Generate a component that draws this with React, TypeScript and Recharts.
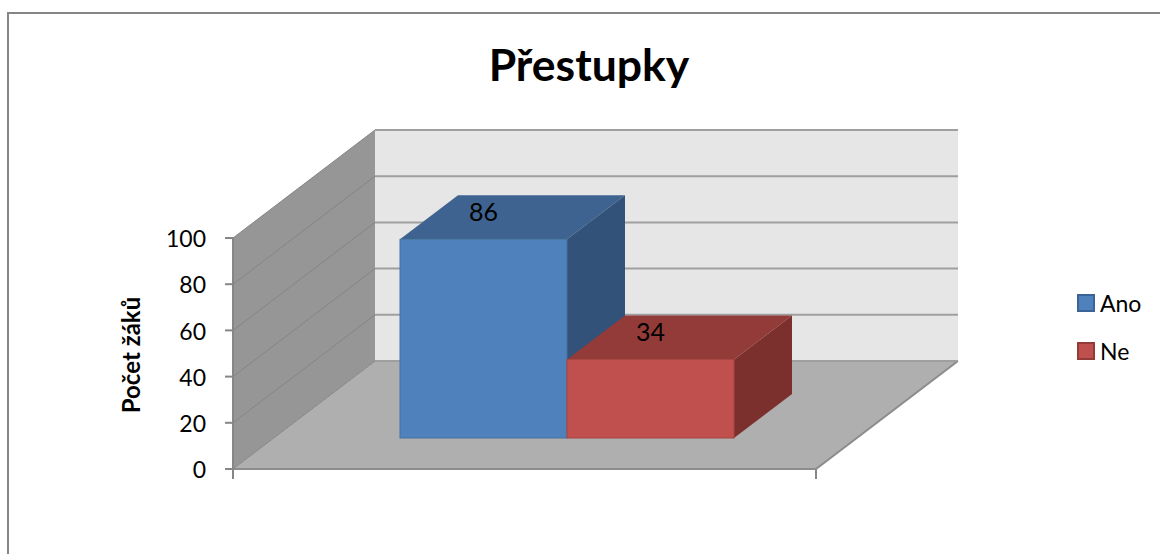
import React from 'react';
import { Bar, BarChart, CartesianGrid, LabelList, Legend, XAxis, YAxis } from 'recharts';

const categories = ['Přestupky'];
const anoValues = [86];
const neValues = [34];
const yTicks = [0, 20, 40, 60, 80, 100];

const data = categories.map((name, i) => ({ name, Ano: anoValues[i], Ne: neValues[i] }));

const FONT = 'Lato, sans-serif';
const WIDTH = 1160;
const HEIGHT = 554;

// plot area = the front plane of the fake 3D box
const LEFT = 233;
const RIGHT = 816;
const TOP = 238;
const BOTTOM = 469;
const AXIS_W = 60;
const LEGEND_H = 1;

// perspective offsets
const WALL_DX = 142;
const WALL_DY = -108;
const BAR_DX = 42;
const BAR_DY = -31;
const DEPTH_DX = 58;
const DEPTH_DY = -44;

const AXIS_COLOR = '#868686';

// walls and floor sit behind the transparent chart
const Backdrop = () => (
  <svg width={WIDTH} height={HEIGHT} style={{ position: 'absolute', left: 0, top: 0 }}>
    <path
      d={`M${LEFT + WALL_DX} ${TOP + WALL_DY}H${RIGHT + WALL_DX}V${BOTTOM + WALL_DY}H${LEFT + WALL_DX}Z`}
      fill="#e6e6e6"
    />
    <path
      d={`M${LEFT} ${TOP}L${LEFT + WALL_DX} ${TOP + WALL_DY}V${BOTTOM + WALL_DY}L${LEFT} ${BOTTOM}Z`}
      fill="#969696"
    />
    <path
      d={`M${LEFT} ${BOTTOM}H${RIGHT}L${RIGHT + WALL_DX} ${BOTTOM + WALL_DY}H${LEFT + WALL_DX}Z`}
      fill="#afafaf"
    />
    <path d={`M${LEFT} ${BOTTOM}V${BOTTOM + 10}M${RIGHT} ${BOTTOM}V${BOTTOM + 10}`} stroke={AXIS_COLOR} strokeWidth={2} fill="none" />
    <path d={`M${LEFT} ${BOTTOM}H${RIGHT}L${RIGHT + WALL_DX} ${BOTTOM + WALL_DY}`} stroke="#8c8c8c" strokeWidth={2} fill="none" />
    <path d={`M${LEFT} ${TOP}V${BOTTOM}`} stroke={AXIS_COLOR} strokeWidth={2} fill="none" />
  </svg>
);

const GridLine = (props: any) => {
  const { x1, x2, y1 } = props;
  return (
    <g key={props.key ?? y1}>
      <line x1={x1} y1={y1} x2={x1 + WALL_DX} y2={y1 + WALL_DY} stroke="#858585" strokeWidth={1} />
      <line x1={x1 + WALL_DX} y1={y1 + WALL_DY} x2={x2 + WALL_DX} y2={y1 + WALL_DY} stroke="#9f9f9f" strokeWidth={2} />
    </g>
  );
};

const makeBox = (front: string, top: string, side: string, edge: string) => (props: any) => {
  const { x, y, width, height } = props;
  const fx = x + BAR_DX;
  const fy = y + BAR_DY;
  const r = fx + width;
  const b = fy + height;
  return (
    <g>
      <path
        d={`M${fx} ${fy}L${fx + DEPTH_DX} ${fy + DEPTH_DY}H${r + DEPTH_DX}L${r} ${fy}Z`}
        fill={top}
      />
      <path
        d={`M${r} ${fy}L${r + DEPTH_DX} ${fy + DEPTH_DY}V${b + DEPTH_DY}L${r} ${b}Z`}
        fill={side}
      />
      <rect x={fx} y={fy} width={width} height={height} fill={front} stroke={edge} strokeWidth={1} />
    </g>
  );
};

const BoxLabel = (props: any) => {
  const { x, y, width, value } = props;
  return (
    <text
      x={x + width / 2 + BAR_DX}
      y={y + BAR_DY - 28}
      textAnchor="middle"
      dominantBaseline="central"
      fontFamily={FONT}
      fontSize={25}
      fill="#000"
    >
      {value}
    </text>
  );
};

const LegendBox = ({ payload }: any) => (
  <div>
    {(payload || []).map((item: any) => (
      <div key={item.value} style={{ display: 'flex', alignItems: 'center', height: 48, fontFamily: FONT, fontSize: 23, color: '#000' }}>
        <span
          style={{
            width: 18,
            height: 18,
            boxSizing: 'border-box',
            background: item.color,
            border: `2px solid ${item.value === 'Ano' ? '#3a6397' : '#933b38'}`,
            marginRight: 5,
          }}
        />
        {item.value}
      </div>
    ))}
  </div>
);

export default function App() {
  return (
    <div style={{ position: 'absolute', left: 0, top: 0, width: WIDTH, height: HEIGHT, overflow: 'hidden', background: '#fff' }}>
      <div style={{ position: 'absolute', left: 7, top: 12, width: WIDTH, height: HEIGHT, borderLeft: '2px solid #868686', borderTop: '2px solid #868686' }} />
      <div
        style={{
          position: 'absolute',
          left: 0,
          top: 35,
          width: 1178,
          textAlign: 'center',
          fontFamily: FONT,
          fontWeight: 700,
          fontSize: 44.5,
          lineHeight: '58px',
          color: '#000',
        }}
      >
        Přestupky
      </div>
      <Backdrop />
      <BarChart
        width={WIDTH}
        height={HEIGHT}
        data={data}
        margin={{ top: TOP, right: WIDTH - RIGHT, bottom: HEIGHT - BOTTOM - LEGEND_H, left: LEFT - AXIS_W }}
        barSize={167}
        barGap={0}
        style={{ position: 'absolute', left: 0, top: 0 }}
      >
        <CartesianGrid vertical={false} horizontal={GridLine} />
        <XAxis dataKey="name" hide />
        <YAxis
          width={AXIS_W}
          domain={[0, 100]}
          ticks={yTicks}
          interval={0}
          axisLine={false}
          tickSize={8}
          tickLine={{ stroke: AXIS_COLOR, strokeWidth: 2 }}
          tick={{ fontFamily: FONT, fontSize: 23, fill: '#000', dx: -9, dy: 1 }}
          tickMargin={10}
        />
        <Bar dataKey="Ano" fill="#4f81bd" isAnimationActive={false} shape={makeBox('#4f81bd', '#3e6390', '#32527a', '#44729f')}>
          <LabelList dataKey="Ano" content={BoxLabel} />
        </Bar>
        <Bar dataKey="Ne" fill="#c0504d" isAnimationActive={false} shape={makeBox('#c0504d', '#933b38', '#7b302e', '#a84541')}>
          <LabelList dataKey="Ne" content={BoxLabel} />
        </Bar>
        <Legend
          layout="vertical"
          height={LEGEND_H}
          content={LegendBox}
          wrapperStyle={{ position: 'absolute', left: 1077, top: 279, width: 80 }}
        />
      </BarChart>
      <div
        style={{
          position: 'absolute',
          left: 130,
          top: 355,
          transform: 'translate(-50%, -50%) rotate(-90deg)',
          whiteSpace: 'nowrap',
          fontFamily: FONT,
          fontWeight: 700,
          fontSize: 24,
          color: '#000',
        }}
      >
        Počet žáků
      </div>
    </div>
  );
}
